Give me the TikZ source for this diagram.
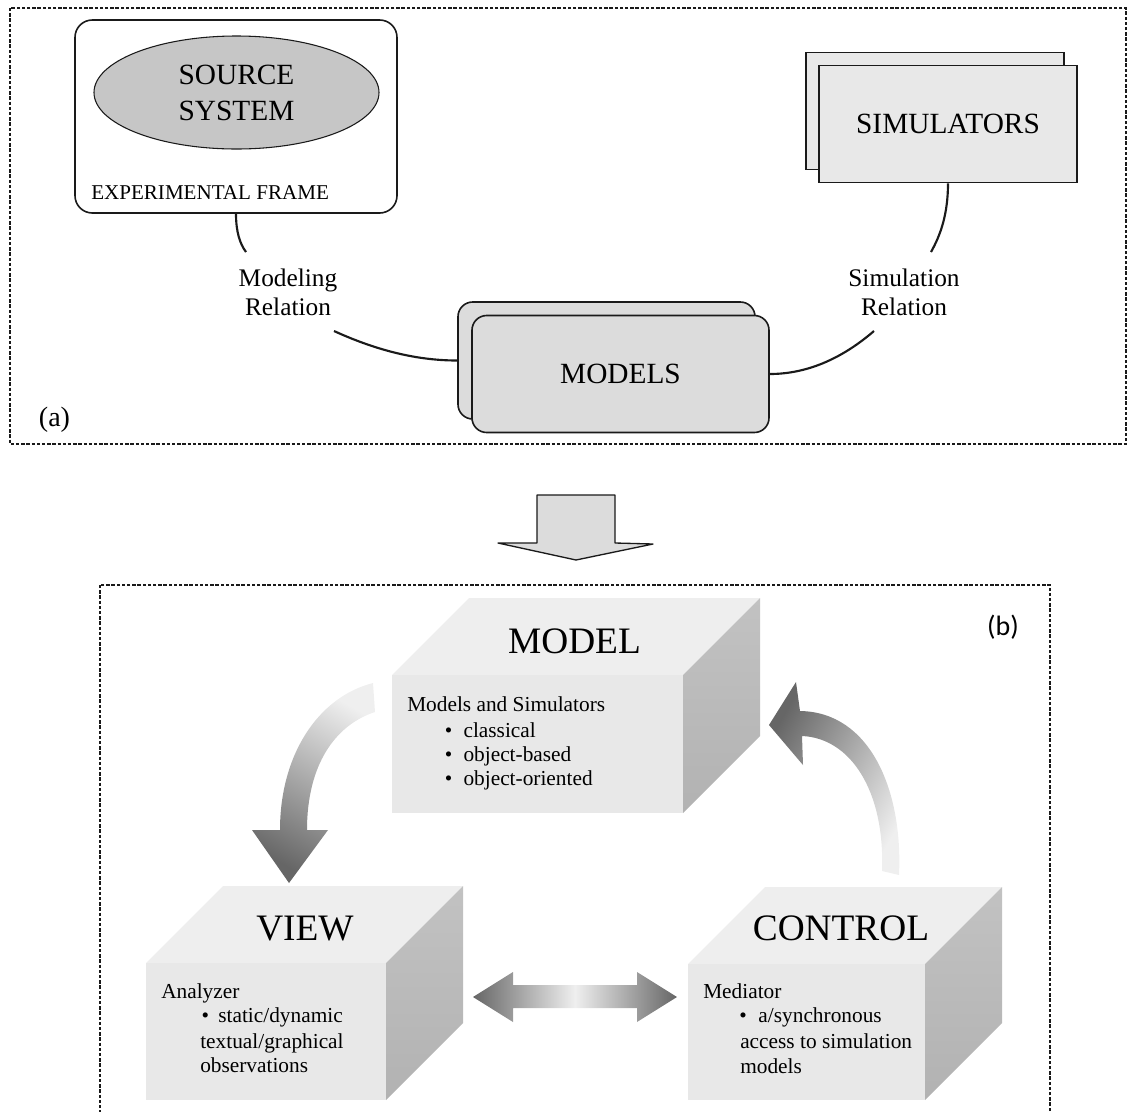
\documentclass[tikz,border=0pt]{standalone}
\usepackage{fontspec}
\setmainfont{Liberation Serif}
\newfontfamily\tagfont{Carlito}
\usetikzlibrary{shapes.geometric,calc}

\definecolor{srcfill}{HTML}{C6C6C6}
\definecolor{simfill}{HTML}{E8E8E8}
\definecolor{modfill}{HTML}{DCDCDC}
\definecolor{topface}{HTML}{EEEEEE}
\definecolor{frontface}{HTML}{E8E8E8}
\definecolor{sidelight}{HTML}{C2C2C2}
\definecolor{sidedark}{HTML}{B2B2B2}
\definecolor{arrowdark}{HTML}{666666}
\definecolor{arrowlight}{HTML}{EFEFEF}
\definecolor{ink}{HTML}{1A1A1A}

\tikzset{
  dashframe/.style={draw=ink, line width=0.9pt, dash pattern=on 2.6pt off 1.3pt},
  conn/.style={draw=ink, line width=1.6pt},
  frameline/.style={draw=ink, line width=1.2pt},
  caps/.style={font=\fontsize{22}{27}\selectfont, align=center},
  rel/.style={font=\fontsize{19}{21.75}\selectfont, align=center, inner sep=0},
  simlayer/.style={frameline, fill=simfill, minimum width=193.5pt, minimum height=87.75pt,
    inner sep=0, caps},
  modlayer/.style={frameline, fill=modfill, rounded corners=11pt, minimum width=222.75pt,
    minimum height=87.75pt, inner sep=0, caps},
  title/.style={font=\fontsize{28}{32}\selectfont, anchor=base, inner sep=0},
  itemtext/.style={font=\fontsize{16}{19}\selectfont, anchor=base west, inner sep=0},
  bigarrow/.style={draw=ink, line width=1.0pt, line join=round, fill=modfill},
}

% three-faced block: #1 name, (#2,#3) front top-left, (#4,#5) front bottom-right
\newcommand\mvcblock[5]{%
  \fill[topface] (#2,#3) -- (#2+77,#3-77) -- (#4+77,#3-77) -- (#4,#3) -- cycle;
  \shade[top color=sidelight, bottom color=sidedark]
    (#4,#3) -- (#4+77,#3-77) -- (#4+77,#5-77) -- (#4,#5) -- cycle;
  \fill[frontface] (#2,#3) rectangle (#4,#5);
  \coordinate (#1) at ({(#2+#4)/2},{(#3+#5)/2});
}

\begin{document}
\begin{tikzpicture}[x=0.75pt,y=-0.75pt]
\useasboundingbox (0,0) rectangle (1128,1111);
\clip (0,0) rectangle (1128,1111);

% ---------- (a) modeling and simulation entities ----------
\draw[dashframe] (10,8) rectangle (1126,444);
\node[font=\fontsize{21}{24}\selectfont, inner sep=0] (tagA) at (54.5,420) {(a)};

\node[frameline, fill=white, rounded corners=13pt, minimum width=241.5pt,
      minimum height=144.75pt, inner sep=0] (frame) at (236,116.5) {};
\node[ellipse, draw=ink, line width=0.8pt, fill=srcfill, minimum width=213.75pt,
      minimum height=84.75pt, inner sep=0, caps] (source) at (236.5,92.5) {SOURCE\\SYSTEM};
\node[font=\fontsize{15.8}{18}\selectfont, anchor=base west, inner sep=0]
      (eframe) at (91,199) {EXPERIMENTAL FRAME};

\node[simlayer] (simsB) at (935,111) {};
\node[simlayer] (simsF) at (948,124) {SIMULATORS};

\node[modlayer] (modelsB) at (606.5,360.5) {};
\node[modlayer] (modelsF) at (620.5,374) {MODELS};

\node[rel] (modrel) at (288,292) {Modeling\\Relation};
\node[rel] (simrel) at (904,292) {Simulation\\Relation};

\coordinate (modA) at (246,252);
\coordinate (modB) at (334,331);
\coordinate (simA) at (931,252);
\coordinate (simB) at (874,331);

\draw[conn] (frame.south) .. controls (236,232) and (240,244) .. (modA);
\draw[conn] (modB) .. controls (380,352) and (420,360.5) .. (modelsB.west);
\draw[conn] (simsF.south) .. controls (948,215) and (940,236) .. (simA);
\draw[conn] (modelsF.east) .. controls (810,374) and (845,356) .. (simB);

% ---------- transition arrow ----------
\draw[bigarrow] (537,495) -- (615,495) -- (615,543) -- (653,544) -- (576,560)
  -- (498,543) -- (537,543) -- cycle;

% ---------- (b) model / view / control ----------
\draw[dashframe] (100,585) rectangle (1050,1140);
\node[font=\tagfont\fontsize{21}{24}\selectfont, inner sep=0] (tagB) at (1003,627.5) {(b)};

\mvcblock{model}{392}{675}{683}{813}
\mvcblock{view}{146}{963}{386}{1100}
\mvcblock{control}{688}{964}{925}{1100}

\node[title] (modelT) at (574.5,653) {MODEL};
\node[itemtext] (modelL1) at (407,711) {Models and Simulators};
\node[itemtext] (modelL2) at (444.6,737) {•\hspace{8.4pt}classical};
\node[itemtext] (modelL3) at (444.6,761) {•\hspace{8.4pt}object-based};
\node[itemtext] (modelL4) at (444.6,785) {•\hspace{8.4pt}object-oriented};

\node[title] (viewT) at (305,940) {VIEW};
\node[itemtext] (viewL1) at (161,998) {Analyzer};
\node[itemtext] (viewL2) at (201.3,1022) {•\hspace{7pt}static/dynamic};
\node[itemtext] (viewL3) at (200,1048) {textual/graphical};
\node[itemtext] (viewL4) at (200,1072) {observations};

\node[title] (controlT) at (841,940) {CONTROL};
\node[itemtext] (controlL1) at (703,998) {Mediator};
\node[itemtext] (controlL2) at (739,1022) {•\hspace{8.8pt}a/synchronous};
\node[itemtext] (controlL3) at (740,1048) {access to simulation};
\node[itemtext] (controlL4) at (740,1073) {models};

% curved arrow: model -> view
\shade[top color=arrowlight, bottom color=arrowdark, shading angle=-30]
  (373,683) .. controls (318,697) and (280,755) .. (280,830)
  -- (252,830) -- (289,883) -- (328,830) -- (307,830)
  .. controls (307,765) and (335,725) .. (375,712) -- cycle;

% curved arrow: control -> model
\shade[top color=arrowdark, bottom color=arrowlight, shading angle=60]
  (899,875) .. controls (903,790) and (870,712) .. (800,711)
  -- (796,682) -- (769,725) -- (803,765) -- (802,736)
  .. controls (850,738) and (885,790) .. (882,871) -- cycle;

% double arrow: view <-> control
\shade[left color=arrowdark, right color=arrowdark, middle color=arrowlight]
  (473,997) -- (513,972) -- (513,985) -- (637,985) -- (637,972) -- (677,997)
  -- (637,1022) -- (637,1008) -- (513,1008) -- (513,1022) -- cycle;

\end{tikzpicture}
\end{document}
